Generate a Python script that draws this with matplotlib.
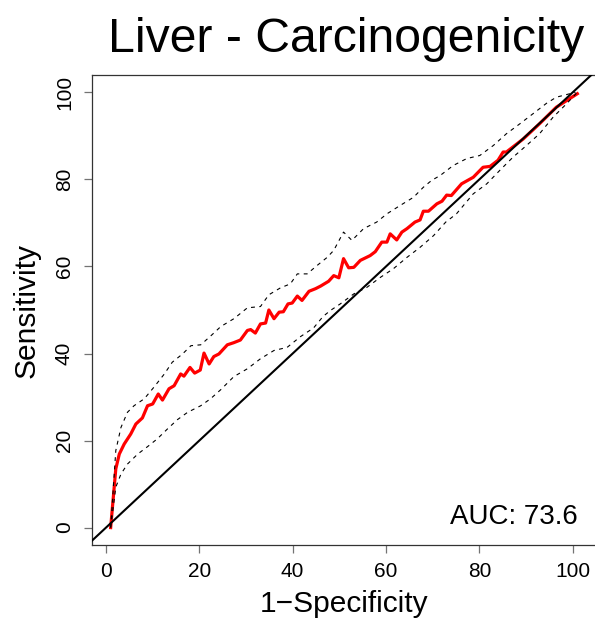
import numpy as np
import matplotlib
matplotlib.use("Agg")
import matplotlib.pyplot as plt

plt.rcParams['font.family'] = ['Liberation Sans', 'DejaVu Sans']

# ROC curve (1-specificity, sensitivity)
roc_x = [1, 2.1, 2.85, 3.9, 5.3, 6.4, 7.8, 8.9, 10, 11.2, 12.1, 13.5, 14.6, 16, 16.7,
         18, 19, 20.2, 21, 22.1, 23.1, 24.2, 26, 27.4, 28.8, 30.3, 31, 32, 33.1, 34.2,
         34.9, 36, 37.1, 38, 39, 39.9, 41, 42, 43.5, 44.9, 46, 47.7, 48.8, 49.9, 50.9,
         52, 53.1, 54.5, 56.6, 57.7, 59.1, 60.2, 60.9, 62.3, 63.4, 64.5, 66.2, 67.3, 68,
         69.1, 70.9, 72, 73, 74, 76.2, 78.7, 80.8, 82.3, 84, 85.1, 85.8, 89.4, 92.9,
         96.5, 101]
roc_y = [0, 13.5, 16.9, 19.2, 21.5, 23.8, 25.2, 28, 28.4, 30.7, 29.3, 31.9, 32.6, 35.3, 34.8,
         36.8, 35.5, 36.2, 40.1, 37.6, 39.3, 39.9, 42, 42.5, 43.1, 45.3, 45.5, 44.7, 46.8, 47,
         50, 48, 49.5, 49.6, 51.4, 51.6, 53.2, 52.2, 54.3, 54.9, 55.5, 56.6, 57.9, 57.4, 61.8,
         59.7, 59.8, 61.4, 62.5, 63.4, 65.6, 65.6, 67.5, 66.1, 67.9, 68.7, 70.2, 70.7, 72.7,
         72.7, 74.4, 75, 76.4, 76.3, 79, 80.5, 82.8, 83, 84.4, 86.3, 86.3, 89.3, 92.8,
         96.6, 99.7]

# upper confidence band
up_x = [1, 2.1, 3.2, 4.6, 6, 8.2, 10.3, 12.5, 14.2, 16.4, 18.2, 20.3, 22.4, 24.6, 27.4,
        30.3, 33.1, 34.9, 37.4, 39.5, 41, 43.1, 45.2, 47.4, 48.8, 50.9, 52.7, 55.2, 58,
        60.2, 63, 65.9, 68, 69.8, 71.6, 74.4, 77.3, 80.1, 83, 85.8, 88.7, 91.5, 94.4,
        96.5, 99.4, 100.6]
up_y = [0, 17.7, 23, 26.5, 28, 29.6, 32.3, 35.3, 38, 39.9, 41.8, 42, 44, 46.2, 48,
        50.5, 50.8, 53.5, 55.1, 56, 58.3, 58.3, 60.2, 62.1, 63.7, 67.9, 66, 68.7, 70.2,
        72.1, 74, 75.9, 78.2, 79.8, 80.9, 83.2, 84.8, 85.5, 87.8, 90.5, 92.8, 95.1, 97.5,
        98.9, 99.7, 100]

# lower confidence band
lo_x = [1, 2.1, 3.2, 4.6, 6.8, 8.9, 11, 13.2, 15.3, 17.5, 20.3, 22.4, 24.6, 27.4, 30.3,
        33.1, 36, 38.8, 41.7, 44.5, 46.5, 48.1, 50.2, 53.1, 55.9, 58.8, 61.6, 64.5, 67.3,
        70.2, 72.8, 75.1, 78.7, 81.6, 84.4, 87.2, 90.1, 92.9, 95.8, 98.7, 100.8]
lo_y = [0, 9.3, 12.3, 14.6, 16.9, 18.6, 20.4, 22.7, 24.8, 26.5, 28, 29.6, 31.7, 34.7, 36.5,
        38.8, 40.7, 41.4, 43.9, 45.9, 48.5, 49.9, 51.4, 53.7, 55.2, 57.5, 59.5, 62.1, 64.4,
        67.1, 70.2, 72.1, 76.7, 79, 82.1, 85.1, 87.8, 90.5, 94.3, 97.4, 99.8]

ticks = [0, 20, 40, 60, 80, 100]
auc = 73.6

W, H = 595, 618
fig = plt.figure(figsize=(W / 100, H / 100), dpi=100)
ax = fig.add_axes([92 / W, 1 - 545 / H, (596 - 92) / W, (545 - 75) / H])

ax.plot(roc_x, roc_y, color='red', lw=2.3, zorder=3)
ax.plot(up_x, up_y, color='black', lw=0.8, ls=(0, (3.5, 4)), zorder=4)
ax.plot(lo_x, lo_y, color='black', lw=0.8, ls=(0, (3.5, 4)), zorder=4)
ax.axline((0, 0), slope=1, color='black', lw=1.5, zorder=5)

ax.set_xlim(-3, 105)
ax.set_ylim(-4, 104)
ax.set_xticks(ticks)
ax.set_yticks(ticks)
ax.tick_params(axis='both', length=6, width=0.9, color='0.45', labelsize=15)
ax.tick_params(axis='x', pad=6)
ax.tick_params(axis='y', pad=7)
for lab in ax.get_yticklabels():
    lab.set_rotation(90)
    lab.set_va('center')
for s in ax.spines.values():
    s.set_linewidth(0.9)
    s.set_color('0.2')

ax.set_xlabel('1\u2212Specificity', fontsize=21.5, labelpad=7)
ax.set_ylabel('Sensitivity', fontsize=21.5, labelpad=10)
ax.text(101, 0.8, 'AUC: %.1f' % auc, ha='right', va='baseline', fontsize=20)

fig.text(346 / W, 1 - 52 / H, 'Liver - Carcinogenicity', ha='center', va='baseline',
         fontsize=34.7)

fig.savefig('out.png', dpi=100)
